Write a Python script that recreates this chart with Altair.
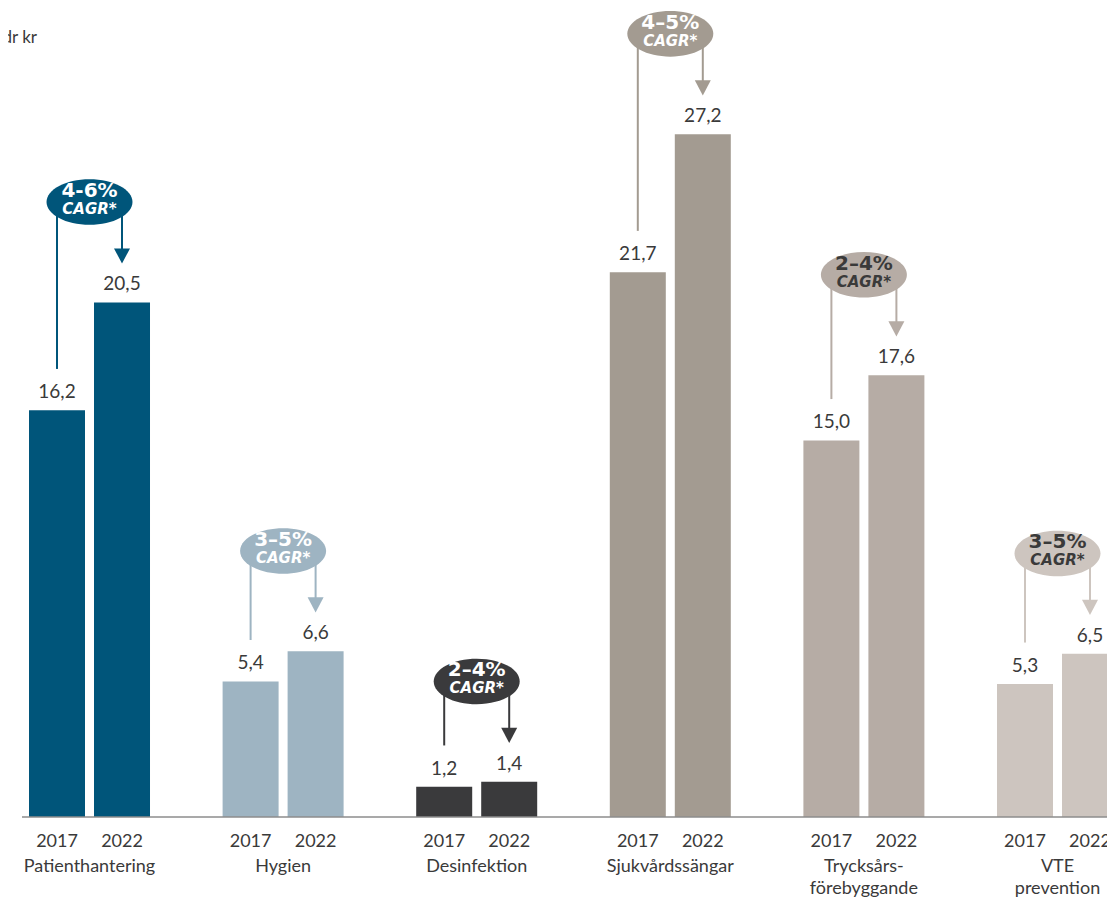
import altair as alt
import pandas as pd

CATEGORIES = ["Patienthantering", "Hygien", "Desinfektion", "Sjukvårdssängar",
              "Trycksårs-\nförebyggande", "VTE\nprevention"]
YEARS = ["2017", "2022"]
V2017 = [16.2, 5.4, 1.2, 21.7, 15.0, 5.3]
V2022 = [20.5, 6.6, 1.4, 27.2, 17.6, 6.5]
CAGR = ["4-6%", "3–5%", "2–4%", "4–5%", "2–4%", "3–5%"]
COLORS = ["#00557a", "#9eb4c2", "#3a3a3c", "#a39b91", "#b6aca5", "#cdc5bf"]
DARK_TEXT = ["Trycksårs-\nförebyggande", "VTE\nprevention"]
UNIT = "Mdr kr"
FONT = "Lato"
BFONT = "DejaVu Sans"
TXT = "#3a3a3a"

rows = []
for c, a, b in zip(CATEGORIES, V2017, V2022):
    rows.append(dict(category=c, year="2017", value=a))
    rows.append(dict(category=c, year="2022", value=b))
bars = pd.DataFrame(rows)
bars["label"] = bars["value"].map(lambda v: f"{v:.1f}".replace(".", ","))

ann = pd.DataFrame(dict(category=CATEGORIES, v17=V2017, v22=V2022, cagr=CAGR))
ann["ey"] = ann["v22"] + 4.0
ann["lb"] = ann["v17"] + 1.65
ann["tri"] = ann["v22"] + 1.85
ann["sub"] = "CAGR*"

left = pd.DataFrame(dict(category=ann["category"], year="2017", y=ann["lb"], y2=ann["ey"]))
right = pd.DataFrame(dict(category=ann["category"], year="2022", y=ann["ey"], y2=ann["tri"]))
rules = pd.concat([left, right], ignore_index=True)
tris = pd.DataFrame(dict(category=ann["category"], year="2022", y=ann["tri"]))

xs = alt.Scale(domain=CATEGORIES, range=[0, 1131], paddingInner=0.375, paddingOuter=0.1085, round=False)
xo = alt.Scale(domain=YEARS, paddingInner=0.1385, paddingOuter=0, round=False)
ys = alt.Scale(domain=[-3.347, 32.23], nice=False, zero=False)
cs = alt.Scale(domain=CATEGORIES, range=COLORS)

X = alt.X("category:N", scale=xs, axis=None)
XO = alt.XOffset("year:N", scale=xo)
C = alt.Color("category:N", scale=cs, legend=None)

bar_layer = alt.Chart(bars).mark_bar().encode(
    x=X, xOffset=XO, y=alt.Y("value:Q", scale=ys, axis=None), y2=alt.datum(0), color=C)

val_layer = alt.Chart(bars).mark_text(font=FONT, fontSize=19, color=TXT, baseline="bottom", dy=-8).encode(
    x=X, xOffset=XO, y=alt.Y("value:Q", scale=ys, axis=None), text="label:N")

rule_layer = alt.Chart(rules).mark_rule(strokeWidth=2).encode(
    x=X, xOffset=XO, y=alt.Y("y:Q", scale=ys, axis=None), y2="y2:Q", color=C)

tri_layer = alt.Chart(tris).mark_point(
    shape="M-1,-0.95 L1,-0.95 L0,0.95 Z", size=256, filled=True, opacity=1).encode(
    x=X, xOffset=XO, y=alt.Y("y:Q", scale=ys, axis=None), color=C)

ell_layer = alt.Chart(ann).mark_point(
    shape="M-1,0 A1,0.53 0 1,1 1,0 A1,0.53 0 1,1 -1,0 Z", size=7396, filled=True, opacity=1).encode(
    x=X, y=alt.Y("ey:Q", scale=ys, axis=None), color=C)

txt_color = alt.condition(alt.FieldOneOfPredicate(field="category", oneOf=DARK_TEXT),
                          alt.value(TXT), alt.value("white"))
pct_layer = alt.Chart(ann).mark_text(font=BFONT, fontSize=20, fontWeight="bold", dy=-11).encode(
    x=X, y=alt.Y("ey:Q", scale=ys, axis=None), text="cagr:N", color=txt_color)
sub_layer = alt.Chart(ann).mark_text(font=BFONT, fontSize=15, fontWeight="bold", fontStyle="italic", dy=7).encode(
    x=X, y=alt.Y("ey:Q", scale=ys, axis=None), text="sub:N", color=txt_color)

year_layer = alt.Chart(bars).mark_text(font=FONT, fontSize=18, color=TXT, baseline="middle").encode(
    x=X, xOffset=XO, y=alt.value(834), text="year:N")

cat_layer = alt.Chart(ann).mark_text(font=FONT, fontSize=18, color=TXT, baseline="middle",
                                     lineBreak="\n", lineHeight=22).encode(
    x=X, y=alt.value(859), text="category:N")

base_layer = alt.Chart(ann.head(1)).mark_rule(color="#8c8c8c", strokeWidth=1.5).encode(
    x=alt.value(14), x2=alt.value(1131), y=alt.Y("z:Q", scale=ys, axis=None)
).transform_calculate(z="0")

unit_layer = alt.Chart(ann.head(1)).mark_text(font=FONT, fontSize=17, color=TXT, align="right",
                                              baseline="middle").encode(
    x=alt.value(29), y=alt.value(30), text=alt.value(UNIT))

chart = alt.layer(
    bar_layer, val_layer, rule_layer, tri_layer, ell_layer, pct_layer, sub_layer,
    year_layer, cat_layer, base_layer, unit_layer
).properties(
    width=1099, height=893, autosize=alt.AutoSizeParams(type="none"), padding=0
).configure_view(stroke=None)

chart.save("out.html", embed_options={"renderer": "svg", "actions": False})
